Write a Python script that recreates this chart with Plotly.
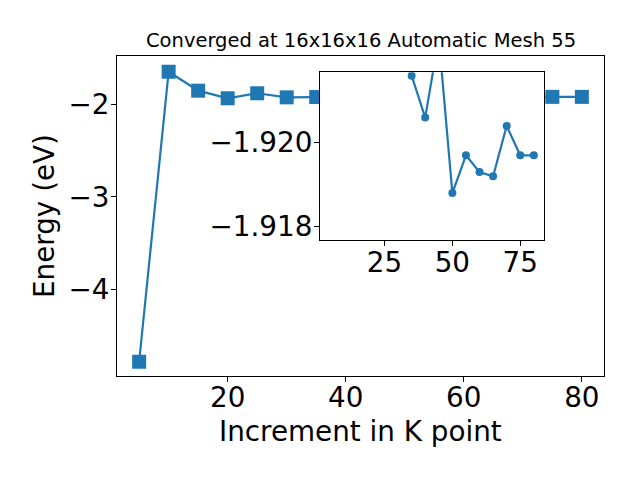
import plotly.graph_objects as go

# Data
kpoints = [5, 10, 15, 20, 25, 30, 35, 40, 45, 50, 55, 60, 65, 70, 75, 80]
energy = [-4.783, -1.648, -1.853, -1.935, -1.881, -1.925, -1.9216, -1.9206,
          -1.9225, -1.9188, -1.9197, -1.9193, -1.9192, -1.9204, -1.9197, -1.9197]
inset_start = 6  # inset shows the converged tail (k >= 35)
main_xticks = [20, 40, 60, 80]
main_yticks = [-2, -3, -4]
inset_xticks = [25, 50, 75]
inset_yticks = [-1.920, -1.918]

title_text = "Converged at 16x16x16 Automatic Mesh 55"
xlabel = "Increment in K point"
ylabel = "Energy (eV)"

color = "#1f77b4"
font_family = "DejaVu Sans"
big = 27.8

# page body has an 8px margin; compensate so the chart lands where the reference is
OFF = 8
W, H = 640 - OFF, 480 - OFF
AX_L, AX_R, AX_T, AX_B = 117, 604, 56, 376   # axes box in window pixels
L, T = AX_L - OFF, AX_T - OFF
R, B = W - (AX_R - OFF), H - (AX_B - OFF)
pw, ph = AX_R - AX_L, AX_B - AX_T

def px_x(px):
    return (px - AX_L) / pw

def px_y(py):
    return (AX_B - py) / ph

fig = go.Figure()

fig.add_trace(go.Scatter(
    x=kpoints, y=energy, mode="lines+markers",
    line=dict(color=color, width=2.2),
    marker=dict(symbol="square", size=14, color=color),
    xaxis="x", yaxis="y", showlegend=False, cliponaxis=True,
))

fig.add_trace(go.Scatter(
    x=kpoints[inset_start:], y=energy[inset_start:], mode="lines+markers",
    line=dict(color=color, width=2.2),
    marker=dict(symbol="circle", size=8, color=color),
    xaxis="x2", yaxis="y2", showlegend=False, cliponaxis=True,
))

inset_x0, inset_x1 = px_x(320), px_x(544)
inset_y0, inset_y1 = px_y(240), px_y(72.3)

axis_common = dict(
    showgrid=False, zeroline=False, showline=True, mirror=True,
    linecolor="black", linewidth=1, ticks="outside", ticklen=5,
    tickwidth=1, tickcolor="black", automargin=False,
    tickfont=dict(family=font_family, size=big, color="black"),
)

fig.update_layout(
    width=W, height=H,
    margin=dict(l=L, r=R, t=T, b=B, autoexpand=False),
    paper_bgcolor="white", plot_bgcolor="white",
    xaxis=dict(domain=[0, 1], range=[1.25, 83.75], tickvals=main_xticks,
               anchor="y", ticklabelstandoff=-8, **axis_common),
    yaxis=dict(domain=[0, 1], range=[-4.937, -1.478], tickvals=main_yticks,
               anchor="x", ticklabelstandoff=-4, **axis_common),
    xaxis2=dict(domain=[inset_x0, inset_x1], range=[1.25, 83.75],
                tickvals=inset_xticks, anchor="y2", ticklabelstandoff=-7,
                **axis_common),
    yaxis2=dict(domain=[inset_y0, inset_y1], range=[-1.91768, -1.92168],
                tickvals=inset_yticks, tickformat=".3f", anchor="x2",
                ticklabelstandoff=-4, **axis_common),
    shapes=[dict(type="rect", xref="x2 domain", yref="y2 domain",
                 x0=0, x1=1, y0=0, y1=1, layer="below",
                 fillcolor="white", line=dict(width=0))],
    annotations=[
        dict(text=title_text, xref="paper", yref="paper", x=0.5, y=1.0,
             xanchor="center", yanchor="bottom", yshift=2, showarrow=False,
             font=dict(family=font_family, size=19.5, color="black")),
        dict(text=xlabel, xref="paper", yref="paper", x=0.5, y=px_y(413),
             xanchor="center", yanchor="top", showarrow=False,
             font=dict(family=font_family, size=big, color="black")),
        dict(text=ylabel, xref="paper", yref="paper", x=px_x(44), y=0.5,
             xanchor="center", yanchor="middle", textangle=-90,
             showarrow=False,
             font=dict(family=font_family, size=big, color="black")),
    ],
)

fig.write_html("out.html")
